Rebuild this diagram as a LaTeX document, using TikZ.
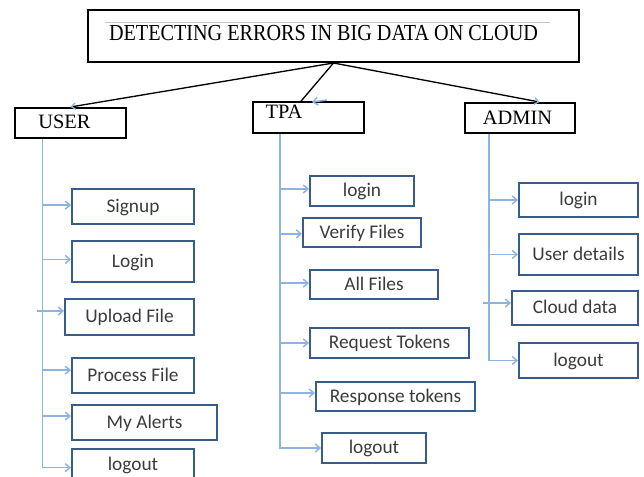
\documentclass[tikz,border=0pt]{standalone}
\usepackage{fontspec}
\setmainfont{Liberation Serif}
\newfontfamily\headfont{Liberation Serif}[FakeStretch=0.88]
\newfontfamily\boxfont{Carlito}
\usetikzlibrary{arrows.meta}
\definecolor{boxblue}{RGB}{56,93,138}
\definecolor{arrblue}{RGB}{141,179,226}
\definecolor{txtgray}{RGB}{60,60,60}

\begin{document}
\begin{tikzpicture}[x=0.75pt, y=-0.75pt,
  topbox/.style 2 args={draw=black, line width=1.5pt, fill=white, inner sep=0pt,
    minimum width=#1*0.75pt, minimum height=#2*0.75pt},
  toptxt/.style={font=\fontsize{15.3}{18}\selectfont, inner sep=0pt},
  subbox/.style 2 args={draw=boxblue, line width=1.5pt, fill=white, inner sep=0pt,
    minimum width=#1*0.75pt, minimum height=#2*0.75pt,
    font=\boxfont\fontsize{14.5}{17}\selectfont, text=txtgray,
    text height=2ex, text depth=0.1ex},
  arr/.style={draw=arrblue, line width=1.1pt, -{Straight Barb[length=3.5pt, width=6pt]}},
  link/.style={draw=black, line width=1pt, -{Straight Barb[length=3pt, width=5pt, color=arrblue]}}]
\useasboundingbox (0,0) rectangle (644,477);

% title and the three roles
\node[topbox={491}{52}] (title) at (333.5,36) {};
\draw[gray!45, line width=0.4pt] (105,22) -- (550,22);
\node[toptxt, font=\headfont\fontsize{17.2}{20}\selectfont] (titletxt) at (323.5,33)
  {DETECTING ERRORS IN BIG DATA ON CLOUD};

\node[topbox={111}{30}] (user) at (70.5,123) {};
\node[toptxt] (usertxt) at (64.5,122) {USER};
\node[topbox={111}{31}] (tpa) at (308.5,117.5) {};
\node[toptxt] (tpatxt) at (284,112) {TPA};
\node[topbox={110}{30}] (admin) at (520,118) {};
\node[toptxt] (admintxt) at (517.5,118) {ADMIN};

\draw[link] (title.south) -- (user.north);
\draw[black, line width=1pt] (title.south) -- ([xshift=-5.5pt]tpa.north);
\coordinate (tpamark) at (327,100);
\draw[arr] (tpamark) -- ++(-15,2);
\draw[link] (title.south) -- ([xshift=14.6pt]admin.north);

% user
\coordinate (utrunk) at ([xshift=-21pt]user.south);
\node[subbox={122}{35}] (signup) at (133,206.5) {Signup};
\node[subbox={122}{41}] (ulogin) at (133,261.5) {Login};
\node[subbox={129}{36}] (upload) at (129.5,317) {Upload File};
\node[subbox={122}{35}] (process) at (133,375.5) {Process File};
\node[subbox={145}{35}] (alerts) at (144.5,422.5) {My Alerts};
\node[subbox={122}{32}] (ulogout) at (133,465) {logout};

\draw[arr] (utrunk) |- ([yshift=-2pt]ulogout.west);
\foreach \b/\s in {signup/1pt, ulogin/1.5pt, process/4pt, alerts/4.8pt, upload/4.5pt} {
  \coordinate (\b-in) at ([yshift=\s]\b.west);
}
\foreach \b in {signup, ulogin, process, alerts}
  \draw[arr] (utrunk |- \b-in) -- (\b-in);
\coordinate (uleft) at ([xshift=-4.5pt]utrunk);
\draw[arr] (uleft |- upload-in) -- (upload-in);

% tpa
\coordinate (ttrunk) at ([xshift=-21.4pt]tpa.south);
\node[subbox={104}{30}] (tlogin) at (362,191) {login};
\node[subbox={118}{29}] (verify) at (362,232.5) {Verify Files};
\node[subbox={128}{29}] (allfiles) at (374,284.5) {All Files};
\node[subbox={159}{30}] (request) at (389.5,343) {Request Tokens};
\node[subbox={159}{29}] (response) at (395.5,396.5) {Response tokens};
\node[subbox={104}{30}] (tlogout) at (374,448) {logout};

\draw[arr] (ttrunk) |- (tlogout.west);
\foreach \b/\s in {tlogin/1.5pt, verify/-1pt, allfiles/1pt, request/0pt, response/2.6pt} {
  \coordinate (\b-in) at ([yshift=\s]\b.west);
  \draw[arr] (ttrunk |- \b-in) -- (\b-in);
}

% admin
\coordinate (atrunk) at ([xshift=-23.25pt]admin.south);
\node[subbox={119}{34}] (alogin) at (578.5,200) {login};
\node[subbox={119}{41}] (details) at (578.5,254.5) {User details};
\node[subbox={126}{34}] (cloud) at (575,308) {Cloud data};
\node[subbox={119}{35}] (alogout) at (578.5,360.5) {logout};

\draw[arr] (atrunk) |- (alogout.west);
\foreach \b/\s in {alogin/0pt, details/1pt}
  \draw[arr] (atrunk |- \b.west) -- (\b.west);
\coordinate (aleft) at ([xshift=-4.5pt]atrunk);
\coordinate (cloud-in) at ([yshift=3.7pt]cloud.west);
\draw[arr] (aleft |- cloud-in) -- (cloud-in);
\end{tikzpicture}
\end{document}
